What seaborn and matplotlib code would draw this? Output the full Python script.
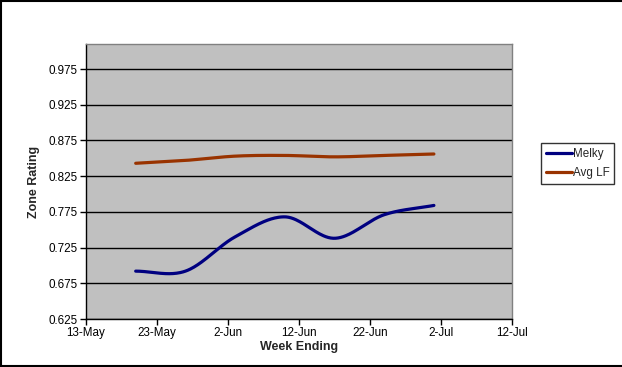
import numpy as np
import pandas as pd
import matplotlib
matplotlib.use("Agg")
import matplotlib.pyplot as plt
import matplotlib.dates as mdates
from matplotlib.lines import Line2D
import seaborn as sns

# ---- data ----
week_ending = ["2007-05-20", "2007-05-27", "2007-06-03", "2007-06-10",
               "2007-06-17", "2007-06-24", "2007-07-01"]
melky = [0.692, 0.692, 0.740, 0.768, 0.738, 0.771, 0.784]
avg_lf = [0.843, 0.847, 0.853, 0.854, 0.852, 0.854, 0.856]
series_names = ["Melky", "Avg LF"]
x_tick_labels = ["13-May", "23-May", "2-Jun", "12-Jun", "22-Jun", "2-Jul", "12-Jul"]
y_ticks = [0.625, 0.675, 0.725, 0.775, 0.825, 0.875, 0.925, 0.975]

colors = {"Melky": "#000080", "Avg LF": "#993300"}

sns.set_theme(style="white")
plt.rcParams["font.family"] = ["Liberation Sans", "DejaVu Sans"]


def smooth(xs, ys, n=40):
    """Catmull-Rom style smoothing (like Excel's smoothed line) for rendering."""
    xs = np.asarray(xs, float)
    ys = np.asarray(ys, float)
    px = np.concatenate([[2 * xs[0] - xs[1]], xs, [2 * xs[-1] - xs[-2]]])
    py = np.concatenate([[2 * ys[0] - ys[1]], ys, [2 * ys[-1] - ys[-2]]])
    outx, outy = [], []
    for i in range(1, len(px) - 2):
        t = np.linspace(0, 1, n, endpoint=(i == len(px) - 3))
        t2, t3 = t * t, t * t * t
        for arr, out in ((px, outx), (py, outy)):
            p0, p1, p2, p3 = arr[i - 1], arr[i], arr[i + 1], arr[i + 2]
            v = 0.5 * ((2 * p1) + (-p0 + p2) * t + (2 * p0 - 5 * p1 + 4 * p2 - p3) * t2
                       + (-p0 + 3 * p1 - 3 * p2 + p3) * t3)
            out.extend(v)
    return np.array(outx), np.array(outy)


dates = pd.to_datetime(week_ending)
xnum = mdates.date2num(dates)

frames = []
for name, vals in zip(series_names, [melky, avg_lf]):
    sx, sy = smooth(xnum, vals)
    frames.append(pd.DataFrame({"x": mdates.num2date(sx), "y": sy, "series": name}))
df = pd.concat(frames, ignore_index=True)
df["x"] = pd.to_datetime(df["x"]).dt.tz_localize(None)

fig = plt.figure(figsize=(6.22, 3.67), dpi=100)
ax = fig.add_axes([86 / 622, 1 - 319 / 367, (512 - 86) / 622, (319 - 44) / 367])
ax.set_facecolor("#C0C0C0")

sns.lineplot(data=df, x="x", y="y", hue="series", palette=colors, sort=False,
             estimator=None, linewidth=2.3, ax=ax, legend=False)

ax.set_ylim(0.625, 1.01)
ax.set_yticks(y_ticks)
ax.set_yticklabels([f"{v:.3f}" for v in y_ticks])
xt = pd.date_range("2007-05-13", periods=7, freq="10D")
ax.set_xlim(mdates.date2num(xt[0]), mdates.date2num(xt[-1]))
ax.set_xticks(mdates.date2num(xt))
ax.set_xticklabels(x_tick_labels)

ax.grid(axis="y", color="black", linewidth=1.0)
ax.grid(axis="x", visible=False)
ax.set_axisbelow(True)
ax.tick_params(axis="both", direction="out", length=4, width=1, color="black",
               labelsize=8.4, labelcolor="black", pad=2, left=True, bottom=True)

for s in ["left", "bottom"]:
    ax.spines[s].set_color("black")
    ax.spines[s].set_linewidth(1.0)
for s in ["top", "right"]:
    ax.spines[s].set_color("#808080")
    ax.spines[s].set_linewidth(1.0)

ax.set_xlabel("Week Ending", fontsize=9, fontweight="bold", labelpad=1)
ax.set_ylabel("Zone Rating", fontsize=9, fontweight="bold", labelpad=6)

handles = [Line2D([], [], color=colors[n], linewidth=2.3) for n in series_names]
leg = fig.legend(handles, series_names, loc="upper left",
                 bbox_to_anchor=(541 / 622, 1 - 143 / 367), fontsize=8.4,
                 frameon=True, fancybox=False, borderpad=0.42, handlelength=2.2,
                 handletextpad=0.1, labelspacing=0.6, borderaxespad=0)
leg.get_frame().set_edgecolor("black")
leg.get_frame().set_linewidth(1.0)

# chart area border (left, top, bottom)
fig.add_artist(Line2D([0.001, 0.001], [0, 1], color="black", linewidth=1.5, transform=fig.transFigure))
fig.add_artist(Line2D([0, 1], [0.998, 0.998], color="black", linewidth=1.5, transform=fig.transFigure))
fig.add_artist(Line2D([0, 1], [1 - 365.5 / 367, 1 - 365.5 / 367], color="black", linewidth=1.5, transform=fig.transFigure))

fig.savefig("out.png", dpi=100)
